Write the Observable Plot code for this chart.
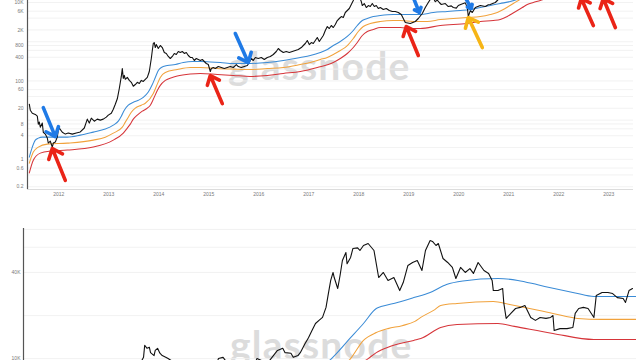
<!DOCTYPE html>
<html><head><meta charset="utf-8">
<script src="https://cdn.jsdelivr.net/npm/d3@7"></script>
<script src="https://cdn.jsdelivr.net/npm/@observablehq/plot@0.6"></script>
<style>
html,body{margin:0;padding:0;background:#fff;}
#wrap{position:relative;width:640px;height:360px;overflow:hidden;background:#fff;}
#top{position:absolute;left:0;top:0;}
#bottom{position:absolute;left:0;top:226px;}
</style></head>
<body><div id="wrap"><div id="top"></div><div id="bottom"></div></div>
<script>
// ---------- data (decimal year, USD) ----------
const topPrice = [
[2011.41,25.5],[2011.43,17.9],[2011.47,15.0],[2011.53,14.0],[2011.57,12.6],[2011.59,7.9],[2011.61,8.9],[2011.63,6.6],
[2011.67,8.4],[2011.69,4.9],[2011.73,4.4],[2011.77,3.5],[2011.79,2.6],[2011.83,2.9],[2011.87,2.05],[2011.89,2.6],
[2011.93,2.75],[2011.97,3.7],[2011.99,5.6],[2012.01,6.25],[2012.07,4.9],[2012.13,4.4],[2012.19,4.7],[2012.27,4.4],
[2012.35,4.7],[2012.43,5.0],[2012.51,6.3],[2012.55,8.9],[2012.57,10.6],[2012.61,8.4],[2012.65,11.2],[2012.71,9.4],
[2012.77,10.6],[2012.83,10.0],[2012.89,10.6],[2012.95,11.9],[2012.99,13.4],[2013.05,15.0],[2013.09,19.0],[2013.13,25.5],
[2013.17,35],[2013.21,64],[2013.25,130],[2013.27,207],[2013.29,116],[2013.31,138],[2013.33,110],[2013.37,123],
[2013.41,103],[2013.45,92],[2013.49,73],[2013.53,81],[2013.57,92],[2013.61,86],[2013.65,103],[2013.69,97],
[2013.73,110],[2013.77,123],[2013.81,174],[2013.85,373],[2013.87,597],[2013.89,900],[2013.91,953],[2013.93,711],
[2013.95,846],[2013.99,671],[2014.03,800],[2014.07,711],[2014.11,531],[2014.15,501],[2014.19,420],[2014.23,373],
[2014.27,420],[2014.31,501],[2014.35,472],[2014.39,563],[2014.43,531],[2014.47,563],[2014.51,501],[2014.55,531],
[2014.59,445],[2014.63,396],[2014.67,396],[2014.71,332],[2014.75,373],[2014.79,352],[2014.83,332],[2014.87,352],
[2014.91,313],[2014.95,278],[2014.99,262],[2015.03,174],[2015.05,207],[2015.09,220],[2015.13,207],[2015.19,233],
[2015.25,220],[2015.31,207],[2015.37,220],[2015.43,233],[2015.49,220],[2015.55,262],[2015.59,233],[2015.65,220],
[2015.71,233],[2015.77,247],[2015.81,295],[2015.85,373],[2015.89,332],[2015.93,396],[2015.99,373],[2016.05,396],
[2016.11,352],[2016.17,396],[2016.23,420],[2016.29,472],[2016.35,563],[2016.39,671],[2016.43,597],[2016.49,531],
[2016.55,563],[2016.61,531],[2016.67,563],[2016.73,597],[2016.79,633],[2016.85,711],[2016.89,800],[2016.93,900],
[2016.97,1070],[2017.01,846],[2017.05,953],[2017.09,900],[2017.13,1070],[2017.17,1280],[2017.21,1010],[2017.25,1210],
[2017.29,1440],[2017.33,1930],[2017.37,2440],[2017.41,2170],[2017.45,2590],[2017.49,2300],[2017.53,2740],[2017.57,3470],
[2017.61,3910],[2017.65,4390],[2017.69,4140],[2017.73,5560],[2017.77,6250],[2017.81,7030],[2017.85,8890],[2017.89,11300],
[2017.93,15000],[2017.97,19000],[2018.01,14000],[2018.05,10600],[2018.07,8380],[2018.11,9400],[2018.15,7450],[2018.19,8380],
[2018.23,7900],[2018.27,9400],[2018.31,7900],[2018.35,8380],[2018.39,7030],[2018.43,7450],[2018.49,6630],[2018.55,7030],
[2018.61,6250],[2018.67,5890],[2018.73,5890],[2018.79,5560],[2018.85,4940],[2018.87,4390],[2018.93,3090],[2019.03,2910],
[2019.13,3280],[2019.19,3910],[2019.27,5240],[2019.33,7450],[2019.39,10000],[2019.43,12000],[2019.49,13000],[2019.53,10500],
[2019.57,11500],[2019.61,10000],[2019.65,8900],[2019.73,9400],[2019.79,7900],[2019.85,8200],[2019.89,7450],[2019.95,7200],
[2019.99,8380],[2020.05,9000],[2020.09,9400],[2020.13,9800],[2020.17,7450],[2020.19,4390],[2020.23,6200],[2020.27,5560],
[2020.33,7450],[2020.43,8380],[2020.53,7900],[2020.59,8800],[2020.63,8890],[2020.69,9600],[2020.73,10000],[2020.77,11250],
[2020.83,13500]
];
const topBlue = [
[2011.41,1.14],[2011.47,2.05],[2011.53,3.09],[2011.59,3.47],[2011.67,3.68],[2011.93,3.68],[2012.17,3.68],[2012.43,4.14],
[2012.69,4.94],[2012.93,5.9],[2013.09,7.45],[2013.19,9.4],[2013.25,12.6],[2013.31,17.9],[2013.39,24],[2013.49,28.6],
[2013.59,32],[2013.69,38],[2013.79,52],[2013.87,81],[2013.93,122],[2013.99,184],[2014.05,220],[2014.17,247],
[2014.33,262],[2014.49,295],[2014.67,313],[2014.83,313],[2015.03,305],[2015.23,295],[2015.49,278],[2015.83,278],
[2016.17,295],[2016.49,332],[2016.83,396],[2017.03,445],[2017.23,531],[2017.37,633],[2017.49,800],[2017.63,1010],
[2017.77,1360],[2017.89,1930],[2017.97,2590],[2018.07,3470],[2018.17,3910],[2018.29,4390],[2018.43,4660],[2018.69,4940],
[2018.97,4940],[2019.23,4940],[2019.49,5560],[2019.77,5890],[2020.03,6250],[2020.23,6630],[2020.43,7450],[2020.63,8380],
[2020.83,9430],[2021.03,10600],[2021.17,12000]
];
const topOrange = [
[2011.41,0.80],[2011.49,1.53],[2011.59,2.05],[2011.77,2.44],[2012.17,2.59],[2012.69,3.09],[2012.93,3.68],[2013.09,4.66],
[2013.27,6.63],[2013.33,8.89],[2013.39,11.9],[2013.45,15.9],[2013.53,20.2],[2013.65,24],[2013.73,27],[2013.89,48],
[2013.95,72],[2014.03,123],[2014.13,164],[2014.37,195],[2014.63,220],[2014.83,220],[2015.17,207],[2015.49,200],
[2015.83,195],[2016.17,207],[2016.49,220],[2016.83,262],[2017.03,295],[2017.23,352],[2017.37,396],[2017.49,472],
[2017.63,597],[2017.77,800],[2017.89,1210],[2017.99,1820],[2018.09,2440],[2018.23,2910],[2018.43,3280],[2018.69,3470],
[2018.83,3470],[2019.09,3280],[2019.37,3280],[2019.63,3680],[2019.89,3910],[2020.17,4140],[2020.43,4390],[2020.63,4940],
[2020.77,5560],[2020.89,6630],[2020.99,7900],[2021.09,9430],[2021.19,11250],[2021.29,13500]
];
const topRed = [
[2011.41,0.45],[2011.49,0.95],[2011.63,1.44],[2011.83,1.62],[2012.17,1.72],[2012.69,2.05],[2013.09,3.09],[2013.29,4.66],
[2013.37,6.25],[2013.43,7.9],[2013.49,10.6],[2013.57,13.4],[2013.67,16.9],[2013.77,20.2],[2013.83,24],[2013.89,34],
[2013.97,57],[2014.03,77],[2014.13,103],[2014.27,123],[2014.37,134],[2014.63,150],[2014.83,155],[2015.17,146],
[2015.49,138],[2015.83,130],[2016.17,138],[2016.49,155],[2016.83,174],[2017.17,220],[2017.49,295],[2017.63,373],
[2017.77,501],[2017.89,711],[2017.97,953],[2018.07,1440],[2018.17,1820],[2018.29,2050],[2018.43,2300],[2018.69,2300],
[2018.83,2300],[2019.03,2170],[2019.23,2170],[2019.63,2590],[2020.17,2910],[2020.43,3280],[2020.69,3470],[2020.83,3680],
[2020.97,4390],[2021.07,5240],[2021.17,6250],[2021.27,7450],[2021.37,8890],[2021.49,10000],[2021.63,11250],[2021.73,12500]
];
const bottomPrice = [
[2018.37,8000],[2018.45,7400],[2018.6,6400],[2018.8,5900],[2018.88,4400],[2019.0,3600],[2019.2,4500],[2019.3,7500],
[2019.39,10200],[2019.40,12400],[2019.42,11800],[2019.44,12000],[2019.45,11000],[2019.48,10500],[2019.49,11400],[2019.51,11800],
[2019.53,10900],[2019.55,10500],[2019.58,10200],[2019.60,10000],[2019.7,8900],[2019.85,7600],[2019.98,7300],[2020.03,10000],
[2020.07,10200],[2020.12,9000],[2020.19,5200],[2020.28,7200],[2020.36,10000],[2020.45,9300],[2020.535,11400],[2020.58,11800],
[2020.60,11000],[2020.65,10900],[2020.67,10200],[2020.71,10500],[2020.73,11000],[2020.77,12700],[2020.80,14000],[2020.83,15700],
[2020.86,17600],[2020.89,18500],[2020.92,19400],[2020.95,22800],[2020.97,28500],[2020.99,35200],[2021.01,40000],[2021.02,36900],
[2021.05,30900],[2021.07,38100],[2021.09,48500],[2021.12,55200],[2021.13,46000],[2021.16,51000],[2021.18,58900],[2021.22,59500],
[2021.24,57000],[2021.27,61800],[2021.31,63800],[2021.36,57000],[2021.40,36900],[2021.44,40000],[2021.48,35200],[2021.53,36900],
[2021.58,29900],[2021.61,34000],[2021.65,44800],[2021.69,47000],[2021.73,48500],[2021.77,41300],[2021.80,57000],[2021.84,67000],
[2021.86,66000],[2021.89,61800],[2021.91,63800],[2021.95,50100],[2021.99,47000],[2022.03,43400],[2022.06,36300],[2022.10,43400],
[2022.14,40000],[2022.18,42600],[2022.21,39400],[2022.25,47000],[2022.30,41300],[2022.34,39400],[2022.37,35200],[2022.38,29900],
[2022.42,29900],[2022.46,30900],[2022.47,24300],[2022.49,19100],[2022.53,20700],[2022.57,22400],[2022.61,22800],[2022.65,23500],
[2022.70,19400],[2022.74,18500],[2022.78,19400],[2022.83,19100],[2022.87,19400],[2022.89,20000],[2022.90,15700],[2022.95,16200],
[2023.01,16200],[2023.06,16500],[2023.08,20700],[2023.11,22400],[2023.15,22800],[2023.19,22400],[2023.24,19400],[2023.26,27600],
[2023.31,29000],[2023.36,29000],[2023.40,28500],[2023.44,26700],[2023.49,26300],[2023.51,24700],[2023.54,29900],[2023.57,30900]
];
const bottomBlue = [
[2020.80,7500],[2020.997,10000],[2021.16,14000],[2021.27,17600],[2021.38,22400],[2021.42,23100],[2021.56,24700],[2021.70,26700],
[2021.84,29000],[2021.98,33000],[2022.12,34900],[2022.42,36300],[2022.59,35200],[2022.76,32800],[2022.90,30900],[2023.08,28800],
[2023.24,27200],[2023.40,27200],[2023.60,27200]
];
const bottomOrange = [
[2021.0,7800],[2021.16,10000],[2021.27,13400],[2021.38,15200],[2021.48,16200],[2021.60,17000],[2021.71,18200],[2021.76,19400],
[2021.88,22000],[2021.93,23500],[2022.07,24300],[2022.38,25100],[2022.52,23900],[2022.89,20700],[2023.10,19100],[2023.30,18800],
[2023.60,18800]
];
const bottomRed = [
[2021.15,8200],[2021.31,10000],[2021.38,11000],[2021.48,12000],[2021.70,13400],[2021.76,13800],[2021.93,16500],[2022.07,17300],
[2022.42,17600],[2022.56,16800],[2022.89,15000],[2023.24,13600],[2023.60,13600]
];
// annotation arrows: [t1, v1, t2 (tip), v2 (tip)]
const blueArrows = [
[2011.69,20.9,2011.93,3.8],[2015.53,1620,2015.79,294],[2019.09,13400,2019.21,5560],[2020.13,13400,2020.25,7030]
];
const redArrows = [
[2012.13,0.29,2011.87,1.89],[2015.27,26.4,2015.03,137],[2019.19,445,2018.95,2440],
[2022.69,2590,2022.45,12600],[2023.13,2300,2022.89,12600]
];
const yellowArrows = [[2020.47,711,2020.19,4140]];
const topYTicks = [10000,6000,2000,800,400,100,60,20,8,4,1,0.6,0.2];
const topGrid = [10000,6000,4000,2000,1000,800,600,400,200,100,60,40,20,10,8,6,4,2,1,0.6,0.4,0.2];
const topXTicks = [2012,2013,2014,2015,2016,2017,2018,2019,2020,2021,2022,2023];
const bottomYTicks = [40000,10000];
const bottomGrid = [80000,60000,40000,20000,10000];

// ---------- drawing ----------
const BLUE = "#3a8bd6", ORANGE = "#f1a23c", RED = "#d6353a";
const pts = a => a.map(([t, v]) => ({t, v}));
const arr = a => a.map(([x1, y1, x2, y2]) => ({x1, y1, x2, y2}));
const fmt = v => v >= 1000 ? (v / 1000) + "K" : String(v);
const FONT = "'Liberation Sans', Arial, sans-serif";
const LABEL = "#7a7a7a";

const topX = [2011.374, 2023.494], topY = [0.170, 11250];
const bandLine = (d, c) => Plot.line(pts(d), {x: "t", y: "v", stroke: c, strokeWidth: 1.05, curve: "monotone-x", clip: true});
const arrowMark = (d, c) => Plot.arrow(arr(d), {x1: "x1", y1: "y1", x2: "x2", y2: "y2", stroke: c, strokeWidth: 3.6, headLength: 8, headAngle: 80, clip: true});
const yLabels = (ticks, x0, dx) => Plot.text(ticks, {x: x0, y: d => d, text: fmt, textAnchor: "end", dx, fill: LABEL, fontSize: 5, fontFamily: FONT});

const topPlot = Plot.plot({
  width: 640, height: 200,
  marginLeft: 27, marginRight: 7, marginTop: 0, marginBottom: 11,
  style: {fontFamily: FONT, fontSize: "5px", color: LABEL, background: "transparent"},
  x: {domain: topX, ticks: topXTicks, tickFormat: d => String(d), tickSize: 0, tickPadding: 3, label: null},
  y: {type: "log", domain: topY, axis: null},
  marks: [
    Plot.ruleY(topGrid, {stroke: "#efefef", strokeWidth: 0.8}),
    Plot.ruleY([topY[0]], {stroke: "#dcdcdc", strokeWidth: 1}),
    Plot.ruleX([topX[0]], {stroke: "#555", strokeWidth: 1.2}),
    bandLine(topRed, RED),
    bandLine(topOrange, ORANGE),
    bandLine(topBlue, BLUE),
    Plot.line(pts(topPrice), {x: "t", y: "v", stroke: "#111", strokeWidth: 1.1, clip: true}),
    arrowMark(blueArrows, "#1f7ae6"),
    arrowMark(redArrows, "#ea2417"),
    arrowMark(yellowArrows, "#f6b516"),
    yLabels(topYTicks, topX[0], -4)
  ]
});

const botX = [2018.364, 2023.604], botY = [4930, 81240];
const botPlot = Plot.plot({
  width: 640, height: 176,
  marginLeft: 23, marginRight: 4, marginTop: 2, marginBottom: 0,
  style: {fontFamily: FONT, fontSize: "5px", color: LABEL, background: "transparent"},
  x: {domain: botX, axis: null},
  y: {type: "log", domain: botY, axis: null},
  marks: [
    Plot.ruleY(bottomGrid, {stroke: "#efefef", strokeWidth: 0.8}),
    Plot.ruleX([botX[0]], {stroke: "#555", strokeWidth: 1.2}),
    bandLine(bottomRed, RED),
    bandLine(bottomOrange, ORANGE),
    bandLine(bottomBlue, BLUE),
    Plot.line(pts(bottomPrice), {x: "t", y: "v", stroke: "#111", strokeWidth: 1.1, clip: true}),
    yLabels(bottomYTicks, botX[0], -3)
  ]
});

function watermark(svg, x, y) {
  d3.select(svg).insert("text", ":first-child")
    .attr("x", x).attr("y", y)
    .attr("text-anchor", "start")
    .attr("fill", "#dcdcdc")
    .attr("font-family", "Lato, 'Open Sans', sans-serif")
    .attr("font-weight", 700)
    .attr("font-size", 39)
    .attr("letter-spacing", 1.2)
    .text("glassnode");
}
watermark(topPlot, 228, 80);
watermark(botPlot, 230, 133);

document.getElementById("top").appendChild(topPlot);
document.getElementById("bottom").appendChild(botPlot);
</script>
</body></html>
